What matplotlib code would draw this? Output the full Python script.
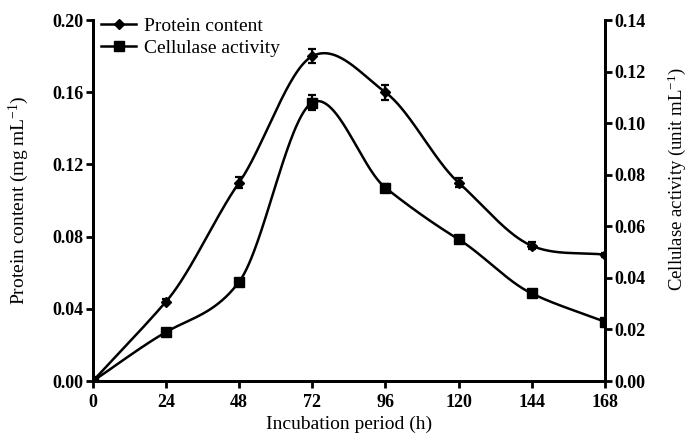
import numpy as np
import matplotlib
matplotlib.use("Agg")
import matplotlib.pyplot as plt
from matplotlib.lines import Line2D

plt.rcParams['font.family'] = ['Liberation Serif', 'DejaVu Serif']
plt.rcParams['mathtext.fontset'] = 'custom'
plt.rcParams['mathtext.rm'] = 'Liberation Serif'
plt.rcParams['mathtext.it'] = 'Liberation Serif:italic'
plt.rcParams['mathtext.bf'] = 'Liberation Serif:bold'

hours = [0, 24, 48, 72, 96, 120, 144, 168]
protein = [0.0, 0.044, 0.110, 0.180, 0.160, 0.110, 0.075, 0.070]
protein_err = [0.0, 0.0015, 0.003, 0.004, 0.004, 0.0025, 0.002, 0.001]
cellulase = [0.0, 0.019, 0.0385, 0.108, 0.075, 0.055, 0.034, 0.023]
cellulase_err = [0.0, 0.0005, 0.001, 0.003, 0.0015, 0.0008, 0.0008, 0.0008]
x_ticks = [0, 24, 48, 72, 96, 120, 144, 168]
left_ticks = [0.00, 0.04, 0.08, 0.12, 0.16, 0.20]
right_ticks = [0.00, 0.02, 0.04, 0.06, 0.08, 0.10, 0.12, 0.14]


def smooth_curve(x, y, scale=0.85, n=60):
    """Cardinal-spline style cubic Hermite curve through the data points."""
    x = np.asarray(x, float)
    y = np.asarray(y, float)
    m = len(x)
    d = np.zeros(m)
    d[0] = (y[1] - y[0]) / (x[1] - x[0])
    d[-1] = (y[-1] - y[-2]) / (x[-1] - x[-2])
    for i in range(1, m - 1):
        d[i] = scale * (y[i + 1] - y[i - 1]) / (x[i + 1] - x[i - 1])
    xs_all, ys_all = [], []
    for i in range(m - 1):
        h = x[i + 1] - x[i]
        t = np.linspace(0, 1, n)
        h00 = 2 * t ** 3 - 3 * t ** 2 + 1
        h10 = t ** 3 - 2 * t ** 2 + t
        h01 = -2 * t ** 3 + 3 * t ** 2
        h11 = t ** 3 - t ** 2
        xs_all.append(x[i] + t * h)
        ys_all.append(h00 * y[i] + h10 * h * d[i] + h01 * y[i + 1] + h11 * h * d[i + 1])
    return np.concatenate(xs_all), np.concatenate(ys_all)


fig = plt.figure(figsize=(6.88, 4.37), dpi=100)
ax = fig.add_axes([0.135, 0.128, 0.744, 0.826])
ax2 = ax.twinx()

lw = 1.8
xs, ys = smooth_curve(hours, protein)
ax.plot(xs, ys, color='black', lw=lw)
ax.errorbar(hours, protein, yerr=protein_err, fmt='D', color='black', ms=5,
            capsize=3, elinewidth=1.6, capthick=1.6)
xs2, ys2 = smooth_curve(hours, cellulase)
ax2.plot(xs2, ys2, color='black', lw=lw)
ax2.errorbar(hours, cellulase, yerr=cellulase_err, fmt='s', color='black', ms=6.5,
             capsize=3, elinewidth=1.6, capthick=1.6)

ax.set_xlim(0, 168)
ax.set_ylim(0, 0.20)
ax2.set_ylim(0, 0.14)
ax.set_xticks(x_ticks)
ax.set_yticks(left_ticks)
ax2.set_yticks(right_ticks)
ax.set_yticklabels([f"{v:.2f}" for v in left_ticks])
ax2.set_yticklabels([f"{v:.2f}" for v in right_ticks])

for a in (ax, ax2):
    for s in a.spines.values():
        s.set_linewidth(2)
    a.spines['top'].set_visible(False)
    a.tick_params(width=2, length=5, labelsize=13, direction='out', pad=2)
    for lab in a.get_xticklabels() + a.get_yticklabels():
        lab.set_fontweight('bold')
ax.tick_params(axis='x', pad=4)

ax.set_xlabel("Incubation period (h)", fontsize=14, labelpad=4)
ax.set_ylabel("Protein content (mg mL$^{-1}$)", fontsize=14)
ax2.set_ylabel("Cellulase activity (unit mL$^{-1}$)", fontsize=13.5)
ax.yaxis.set_label_coords(-0.12, 0.5)
ax2.yaxis.set_label_coords(1.118, 0.56)

handles = [Line2D([], [], color='black', marker='D', ms=5, lw=lw),
           Line2D([], [], color='black', marker='s', ms=6.5, lw=lw)]
ax.legend(handles, ["Protein content", "Cellulase activity"], loc='upper left',
          bbox_to_anchor=(-0.01, 1.045), frameon=False, fontsize=14,
          handlelength=1.8, handletextpad=0.4, labelspacing=0.2,
          borderaxespad=0.3)

fig.savefig("out.png", dpi=100)
